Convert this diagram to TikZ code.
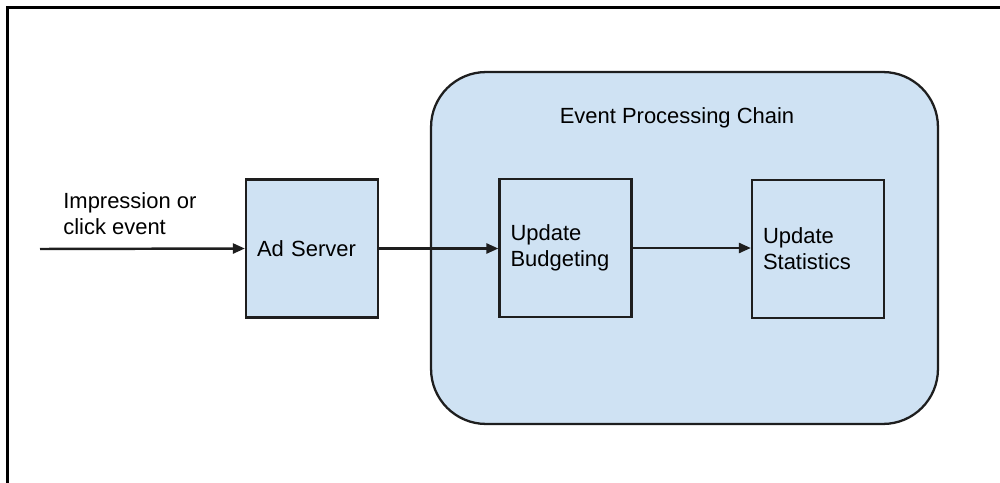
\documentclass[tikz,border=0pt]{standalone}
\usepackage{fontspec}
\setmainfont{Liberation Sans}
\usepackage{tikz}
\usetikzlibrary{arrows.meta,             % pointes de flèches
           positioning}
\definecolor{bleu}{RGB}{207,226,243}
\definecolor{trait}{RGB}{30,30,30}

\begin{document}
\begin{tikzpicture}[x=0.02cm, y=-0.02cm,
    font=\fontsize{12.5}{14.7}\selectfont,
    boite/.style={draw=trait, line width=1.3pt, fill=bleu, minimum width=2.64cm,
        minimum height=2.76cm, text width=2.2cm, align=left, inner sep=0pt},
    fleche/.style={-{Triangle[length=0.24cm,width=0.2cm]}, line width=1.4pt, draw=trait}]
    \useasboundingbox (0,0) rectangle (1000,483);
    \draw[line width=1.7pt] (1000,7.5)--(7.5,7.5)--(7.5,483);
    \node[draw=trait, line width=1.3pt, fill=bleu, rounded corners=1.1cm,
        minimum width=10.14cm, minimum height=7.04cm](chaine)at(684.5,248){};
    \node[anchor=base](titre)at(677,123){Event Processing Chain};
    \node[boite](ad)at(312,248.5){Ad Server};
    \node[boite](budget)at(565.5,248){Update\\Budgeting};
    \node[boite](stats)at(818,249){Update\\Statistics};
    \coordinate(entree)at(40,249);
    \node[anchor=north west, align=left, inner sep=0pt](evt)at(63,192){Impression or\\click event};
    \draw[fleche](entree)--(ad.west);
    \draw[fleche](ad.east)--(ad.east-|budget.west);
    \draw[fleche](budget.east)--(budget.east-|stats.west);
\end{tikzpicture}
\end{document}
